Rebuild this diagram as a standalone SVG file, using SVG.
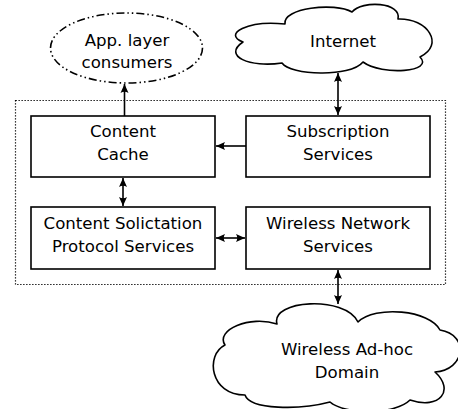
<svg xmlns="http://www.w3.org/2000/svg" width="458" height="409" viewBox="0 0 458 409">
<style>
text{font-family:"DejaVu Sans","Liberation Sans",sans-serif;font-size:16.6px;fill:#000;text-anchor:middle}
.box{fill:#fff;stroke:#000;stroke-width:1.6}
.cloud{fill:#fff;stroke:#000;stroke-width:1.6;stroke-linejoin:round}
.con{stroke:#000;stroke-width:1.6;fill:none}
</style>
<defs>
<marker id="ah" markerUnits="userSpaceOnUse" markerWidth="12" markerHeight="10" viewBox="-10 -5 12 10" refX="0" refY="0" orient="auto-start-reverse">
<path d="M0,0 L-9,-4 Q-6.5,0 -9,4 Z" fill="#000"/>
</marker>
</defs>
<rect id="container" x="15.5" y="100.5" width="430" height="184" fill="none" stroke="#000" stroke-width="1.2" stroke-dasharray="1.3,1.7"/>
<g id="app-layer">
<ellipse cx="126.5" cy="48" rx="76" ry="35" fill="#fff" stroke="#000" stroke-width="1.6" stroke-dasharray="8,3,1.5,3,1.5,3"/>
<text x="127" y="46">App. layer</text>
<text x="127" y="68">consumers</text>
</g>
<g id="internet">
<path class="cloud" d="M243,42 C222,34 248,20 285,24 C282,8 335,2 352,12 C362,0 402,2 398,19 C428,18 445,45 420,57 C435,72 382,76 363,62 C350,78 290,75 282,63 C250,68 222,56 243,42 Z"/>
<text x="343" y="47">Internet</text>
</g>
<g id="content-cache">
<rect class="box" x="31" y="116" width="184" height="61"/>
<text x="123" y="137">Content</text>
<text x="123" y="160">Cache</text>
</g>
<g id="subscription">
<rect class="box" x="246" y="116" width="184" height="61"/>
<text x="338" y="137">Subscription</text>
<text x="338" y="160">Services</text>
</g>
<g id="solicitation">
<rect class="box" x="31" y="207" width="184" height="62"/>
<text x="123" y="229">Content Solictation</text>
<text x="123" y="252">Protocol Services</text>
</g>
<g id="wireless-network">
<rect class="box" x="246" y="207" width="184" height="62"/>
<text x="338" y="229">Wireless Network</text>
<text x="338" y="252">Services</text>
</g>
<g id="wireless-adhoc">
<path class="cloud" d="M277,324 C270,300 345,295 358,322 C375,305 430,310 440,330 C470,335 465,370 435,372 C455,390 440,410 410,400 C395,415 345,415 330,402 C300,410 250,410 245,395 C210,395 205,355 225,345 C215,330 250,315 277,324 Z"/>
<text x="347" y="355">Wireless Ad-hoc</text>
<text x="347" y="378">Domain</text>
</g>
<g id="connectors">
<line class="con" x1="124.5" y1="116" x2="124.5" y2="84" marker-end="url(#ah)"/>
<line class="con" x1="246" y1="146" x2="216" y2="146" marker-end="url(#ah)"/>
<line class="con" x1="123" y1="178" x2="123" y2="206" marker-start="url(#ah)" marker-end="url(#ah)"/>
<line class="con" x1="216" y1="238" x2="245" y2="238" marker-start="url(#ah)" marker-end="url(#ah)"/>
<line class="con" x1="338" y1="73" x2="338" y2="115" marker-start="url(#ah)" marker-end="url(#ah)"/>
<line class="con" x1="338" y1="270" x2="338" y2="304" marker-start="url(#ah)" marker-end="url(#ah)"/>
</g>
</svg>
